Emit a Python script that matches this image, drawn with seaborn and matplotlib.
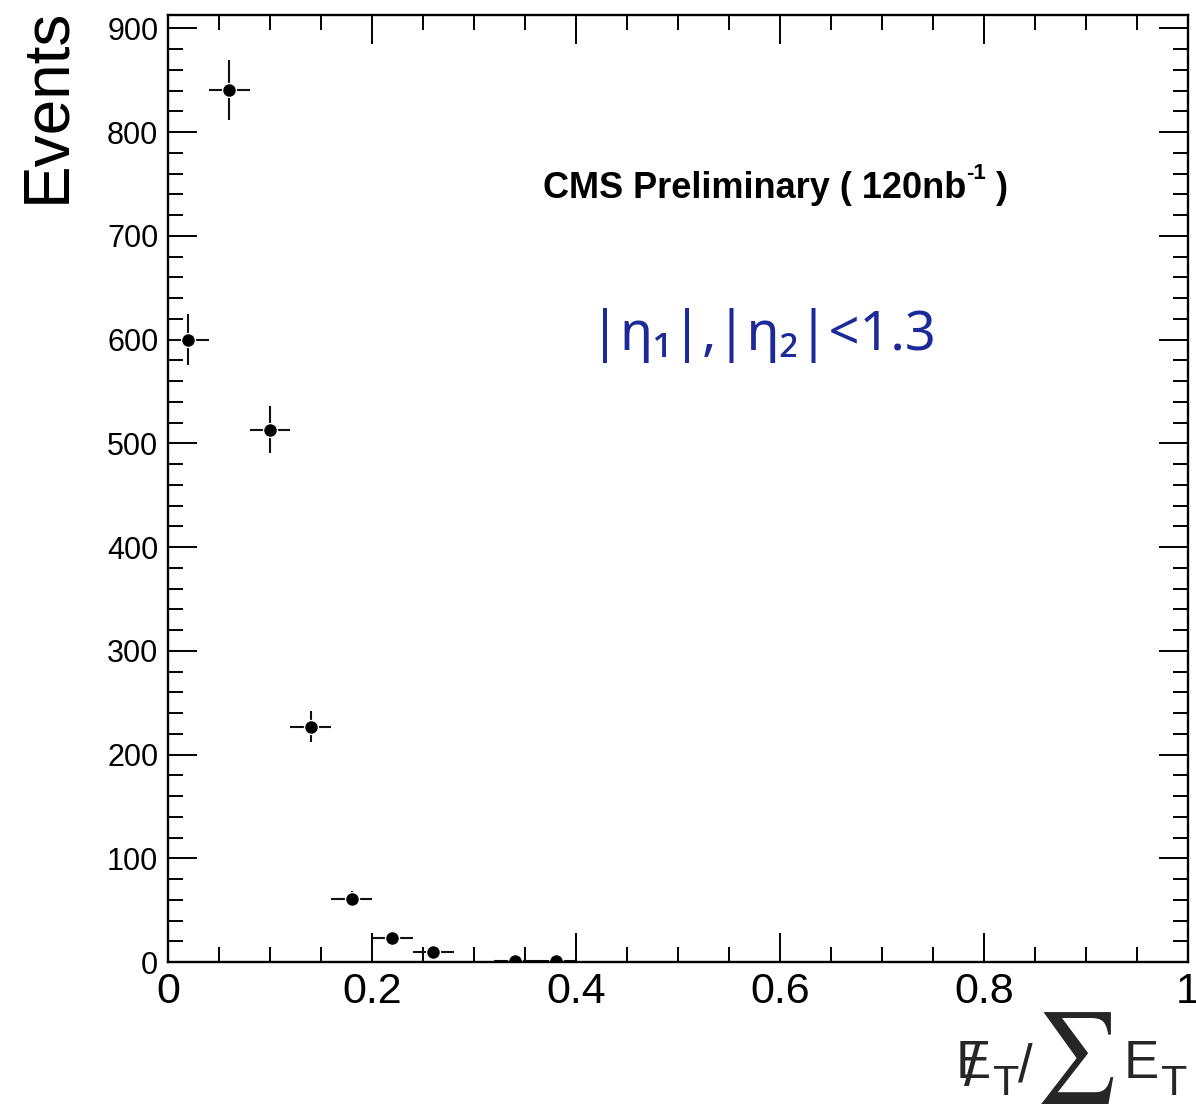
import numpy as np
import pandas as pd
import matplotlib
matplotlib.use("Agg")
import matplotlib.pyplot as plt
import seaborn as sns
from matplotlib.ticker import MultipleLocator

# ---- data ----
bin_centers = [0.02, 0.06, 0.10, 0.14, 0.18, 0.22, 0.26, 0.34, 0.38]
events = [600, 841, 513, 227, 61, 23, 10, 1, 1]
event_err = [24.5, 29.0, 22.6, 15.1, 7.8, 4.8, 3.2, 1.0, 1.0]
bin_halfwidth = [0.02] * len(bin_centers)
x_ticks = [0, 0.2, 0.4, 0.6, 0.8, 1.0]
x_tick_labels = ["0", "0.2", "0.4", "0.6", "0.8", "1"]
y_ticks = [0, 100, 200, 300, 400, 500, 600, 700, 800, 900]

sns.set_theme(style="ticks")
plt.rcParams["font.family"] = ["Liberation Sans", "DejaVu Sans"]

df = pd.DataFrame({"x": bin_centers, "y": events, "yerr": event_err, "xerr": bin_halfwidth})

W, H = 1196, 1110
fig = plt.figure(figsize=(W / 100, H / 100), dpi=100)
ax = fig.add_axes([168 / W, 1 - 962 / H, 1020 / W, (962 - 15) / H])

ax.errorbar(df["x"], df["y"], xerr=df["xerr"], yerr=df["yerr"], fmt="none",
            ecolor="#111111", elinewidth=1.5, capsize=0, zorder=2)
sns.scatterplot(data=df, x="x", y="y", ax=ax, color="black", s=100,
                edgecolor="white", linewidth=1.0, zorder=2.3, legend=False)

ax.set_xlim(0, 1)
ax.set_ylim(0, 913)
ax.set_xticks(x_ticks)
ax.set_xticklabels(x_tick_labels)
ax.set_yticks(y_ticks)
ax.xaxis.set_minor_locator(MultipleLocator(0.05))
ax.yaxis.set_minor_locator(MultipleLocator(20))
ax.tick_params(which="both", direction="in", top=True, right=True, color="black", width=1.4)
ax.tick_params(which="major", length=21)
ax.tick_params(which="minor", length=11)
ax.tick_params(axis="y", labelsize=22, pad=7, labelcolor="black")
ax.tick_params(axis="x", labelsize=31, pad=7, labelcolor="black")
for s in ax.spines.values():
    s.set_linewidth(1.7)
    s.set_color("black")
    s.set_zorder(2.6)
ax.set_xlabel("")
ax.set_ylabel("")

# y axis title (ROOT-style, right-aligned at top)
fig.text(47 / W, 1 - 8 / H, "Events", rotation=90, ha="center", va="top",
         fontsize=46, color="black")

# x axis title: missing E_T / sum E_T
def px(x, y):
    return x / W, 1 - y / H

fig.text(*px(956, 1078), "E", fontsize=38, ha="left", va="baseline")
fig.text(*px(964, 1085), "/", fontsize=44, ha="left", va="baseline")
fig.text(*px(993, 1095), "T", fontsize=31, ha="left", va="baseline")
fig.text(*px(1018, 1082), "/", fontsize=38, ha="left", va="baseline")
fig.text(*px(1036, 1081), "\u2211", fontsize=65, ha="left", va="baseline",
         family=["STIXGeneral", "DejaVu Serif"])
fig.text(*px(1124, 1078), "E", fontsize=38, ha="left", va="baseline")
fig.text(*px(1161, 1095), "T", fontsize=31, ha="left", va="baseline")

# CMS label with superscript
t1 = ax.text(0.3676, 0.817, "CMS Preliminary ( 120nb", transform=ax.transAxes,
             ha="left", va="center", fontsize=26, fontweight="bold", color="black")
t2 = ax.annotate("-1", xy=(1.0, 0.62), xycoords=t1, ha="left", va="bottom",
                 fontsize=16, fontweight="bold", color="black")
ax.annotate(" )", xy=(1.0, 0.0), xycoords=(t2, t1), ha="left", va="bottom",
            fontsize=26, fontweight="bold", color="black")

ax.text(0.583, 0.662, "|\u03b7\u2081|,|\u03b7\u2082|<1.3", transform=ax.transAxes,
        ha="center", va="center", fontsize=39, color="#1c2a99",
        family=["Noto Sans", "DejaVu Sans"])

fig.savefig("out.png", dpi=100)
